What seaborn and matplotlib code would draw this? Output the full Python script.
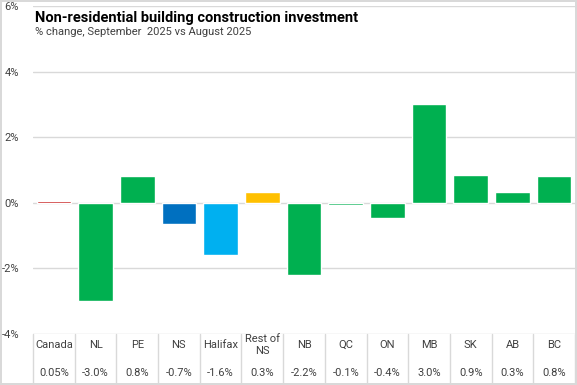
import matplotlib
matplotlib.use("Agg")
import matplotlib.pyplot as plt
import matplotlib.transforms as mtransforms
import seaborn as sns
import pandas as pd

# data
regions = ["Canada", "NL", "PE", "NS", "Halifax", "Rest of\nNS", "NB", "QC",
           "ON", "MB", "SK", "AB", "BC"]
pct_change = [0.05, -3.0, 0.82, -0.66, -1.6, 0.33, -2.2, -0.07, -0.45, 3.0,
              0.86, 0.34, 0.83]
table_values = ["0.05%", "-3.0%", "0.8%", "-0.7%", "-1.6%", "0.3%", "-2.2%",
                "-0.1%", "-0.4%", "3.0%", "0.9%", "0.3%", "0.8%"]
bar_colors = ["#C00000", "#00B050", "#00B050", "#0070C0", "#00B0F0", "#FFC000",
              "#00B050", "#00B050", "#00B050", "#00B050", "#00B050", "#00B050",
              "#00B050"]
y_ticks = [-4, -2, 0, 2, 4, 6]

df = pd.DataFrame({"region": regions, "change": pct_change})

sns.set_style("white")
plt.rcParams["font.family"] = ["Roboto", "DejaVu Sans"]
grid_col = "#d9d9d9"
text_col = "#404040"

fig = plt.figure(figsize=(5.77, 3.85), dpi=100)
W, H = 577, 385
ax = fig.add_axes([33 / W, (H - 334) / H, (575 - 33) / W, (334 - 6) / H])

sns.barplot(data=df, x="region", y="change", hue="region", palette=bar_colors,
            legend=False, width=0.83, saturation=1, ax=ax)

ax.set_xlim(-0.5, len(regions) - 0.5)
ax.set_ylim(-4, 6)
ax.set_yticks(y_ticks)
ax.set_yticklabels([f"{t}%" for t in y_ticks], color=text_col, fontsize=8)
ax.tick_params(axis="y", length=0, pad=10)
ax.set_xticks([])
ax.set_xlabel("")
ax.set_ylabel("")
ax.grid(axis="y", color=grid_col, linewidth=1)
ax.set_axisbelow(True)
for s in ax.spines.values():
    s.set_visible(False)

# data table under the plot
trans = mtransforms.blended_transform_factory(ax.transData, ax.transAxes)
ax_h = 334 - 6
name_y = -(345 - 334) / ax_h
val_y = -(373 - 334) / ax_h
bottom_y = -(384 - 334) / ax_h
for i, (name, val) in enumerate(zip(regions, table_values)):
    ax.text(i, name_y, name, transform=trans, ha="center", va="center",
            fontsize=8, color=text_col, linespacing=1.3)
    ax.text(i, val_y, val, transform=trans, ha="center", va="center",
            fontsize=8, color=text_col)
for i in range(len(regions) + 1):
    ax.plot([i - 0.5, i - 0.5], [0, bottom_y], transform=trans, color=grid_col,
            linewidth=1, clip_on=False)

# title
fig.text(35 / W, 1 - 18 / H, "Non-residential building construction investment",
         fontsize=10.5, fontweight="bold", color="black", va="center", ha="left")
fig.text(35 / W, 1 - 32 / H, "% change, September  2025 vs August 2025",
         fontsize=8, color=text_col, va="center", ha="left")

fig.patch.set_edgecolor(grid_col)
fig.patch.set_linewidth(1.5)

fig.savefig("out.png", dpi=100, edgecolor=fig.get_edgecolor())
